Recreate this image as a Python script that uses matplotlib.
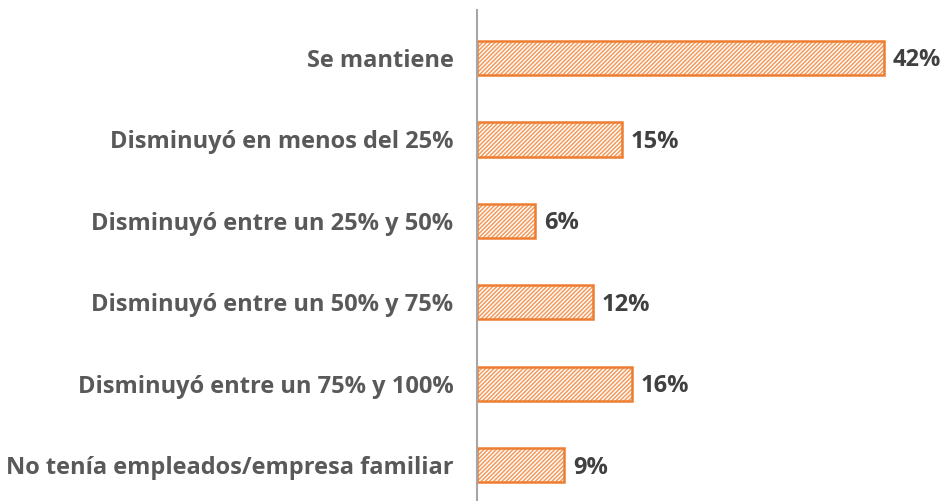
import matplotlib.pyplot as plt

categories = [
    "Se mantiene",
    "Disminuyó en menos del 25%",
    "Disminuyó entre un 25% y 50%",
    "Disminuyó entre un 50% y 75%",
    "Disminuyó entre un 75% y 100%",
    "No tenía empleados/empresa familiar",
]
values = [42, 15, 6, 12, 16, 9]

plt.rcParams['font.family'] = ['Open Sans', 'DejaVu Sans']
plt.rcParams['hatch.linewidth'] = 1.1

fig = plt.figure(figsize=(9.42, 5.01), dpi=100)
ax = fig.add_axes([477 / 942, 0, 1 - 477 / 942, 1 - 10 / 501])

pos = list(range(len(categories)))
# hatch layer
ax.barh(pos, values, height=0.42, color='white', edgecolor='#F39A5C',
        hatch='////////', linewidth=0)
# outline layer
ax.barh(pos, values, height=0.42, color='none', edgecolor='#ED7D31', linewidth=1.8)

for p, v in zip(pos, values):
    ax.text(v + 0.9, p + 0.03, f"{v}%", va='center', ha='left', fontsize=17,
            fontweight='bold', color='#404040')

ax.set_yticks(pos)
ax.set_yticklabels(categories, fontsize=17, fontweight='bold', color='#595959')
ax.tick_params(axis='y', length=0, pad=17)
ax.set_xticks([])
ax.set_xlim(0, 48)
ax.set_ylim(5.44, -0.59)

for s in ['top', 'right', 'bottom']:
    ax.spines[s].set_visible(False)
ax.spines['left'].set_color('#A6A6A6')
ax.spines['left'].set_linewidth(1.5)

fig.savefig('out.png', dpi=100)
